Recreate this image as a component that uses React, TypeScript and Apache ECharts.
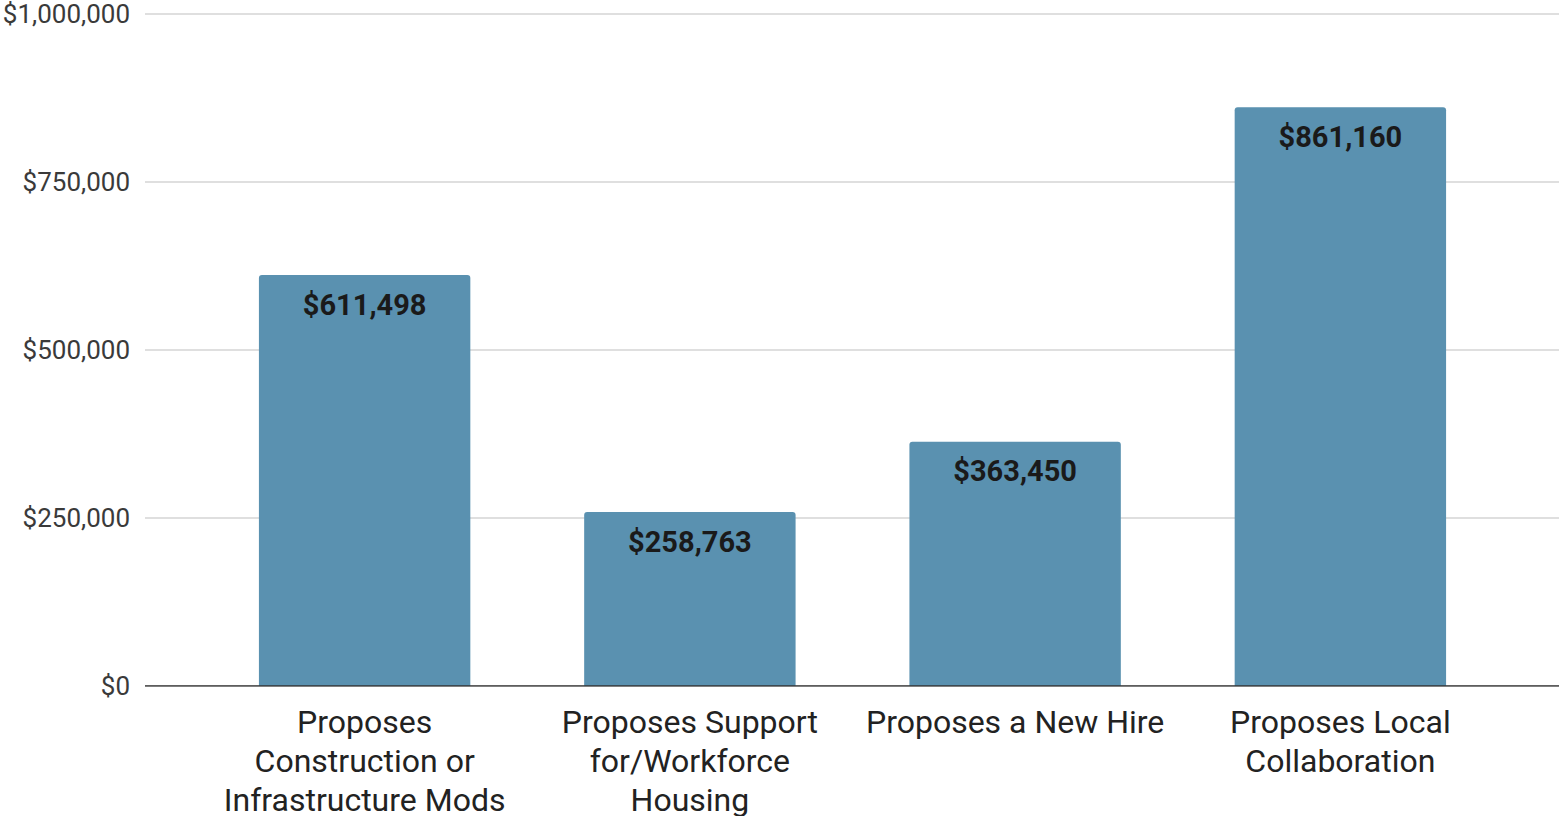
import React, { useEffect, useRef } from "react";
import * as echarts from "echarts";

const categories = [
  "Proposes\nConstruction or\nInfrastructure Mods",
  "Proposes Support\nfor/Workforce\nHousing",
  "Proposes a New Hire",
  "Proposes Local\nCollaboration",
];
const values = [611498, 258763, 363450, 861160];
const yMin = 0;
const yMax = 1000000;
const yInterval = 250000;

const fmt = (v: number) => "$" + Math.round(v).toLocaleString("en-US");

export default function App() {
  const ref = useRef<HTMLDivElement>(null);
  useEffect(() => {
    if (!ref.current) return;
    const chart = echarts.init(ref.current, null, { renderer: "svg" });
    const font = "Roboto, 'Noto Sans', sans-serif";
    chart.setOption({
      animation: false,
      backgroundColor: "#ffffff",
      grid: [
        { left: 145, right: 0, top: 14, bottom: 130, containLabel: false, outerBoundsMode: "none" },
        { left: 202, width: 1301, top: 14, bottom: 130, containLabel: false, outerBoundsMode: "none" },
      ],
      xAxis: [
        {
          gridIndex: 0,
          type: "value",
          min: 0,
          max: 1,
          show: false,
        },
        {
          gridIndex: 1,
          type: "category",
          data: categories,
          axisLine: { show: false },
          axisTick: { show: false },
          axisLabel: {
            interval: 0,
            margin: 16,
            fontFamily: font,
            fontSize: 32,
            lineHeight: 39,
            color: "#222222",
          },
        },
      ],
      yAxis: [
        {
          gridIndex: 0,
          type: "value",
          min: yMin,
          max: yMax,
          interval: yInterval,
          axisLine: { show: false },
          axisTick: { show: false },
          axisLabel: {
            margin: 15,
            fontFamily: font,
            fontSize: 26,
            color: "#3a3a3a",
            formatter: (v: number) => fmt(v),
          },
          splitLine: { lineStyle: { color: "#d4d4d4", width: 1.5 } },
        },
        {
          gridIndex: 1,
          type: "value",
          min: yMin,
          max: yMax,
          interval: yInterval,
          show: false,
          splitLine: { show: false },
        },
      ],
      series: [
        {
          type: "line",
          xAxisIndex: 0,
          yAxisIndex: 0,
          data: [[0, 0], [1, 0]],
          symbol: "none",
          silent: true,
          lineStyle: { color: "#333333", width: 1.5 },
          z: 5,
        },
        {
          type: "bar",
          xAxisIndex: 1,
          yAxisIndex: 1,
          data: values,
          barWidth: "65%",
          itemStyle: { color: "#5a91b0", borderRadius: [3, 3, 0, 0] },
          label: {
            show: true,
            position: "insideTop",
            distance: 15,
            fontFamily: font,
            fontSize: 29,
            fontWeight: "bold",
            color: "#1a1a1a",
            formatter: (p: any) => fmt(p.value),
          },
          z: 3,
        },
      ],
    });
    return () => chart.dispose();
  }, []);
  return (
    <div
      ref={ref}
      style={{ position: "fixed", left: 0, top: 0, width: 1559, height: 816 }}
    />
  );
}
